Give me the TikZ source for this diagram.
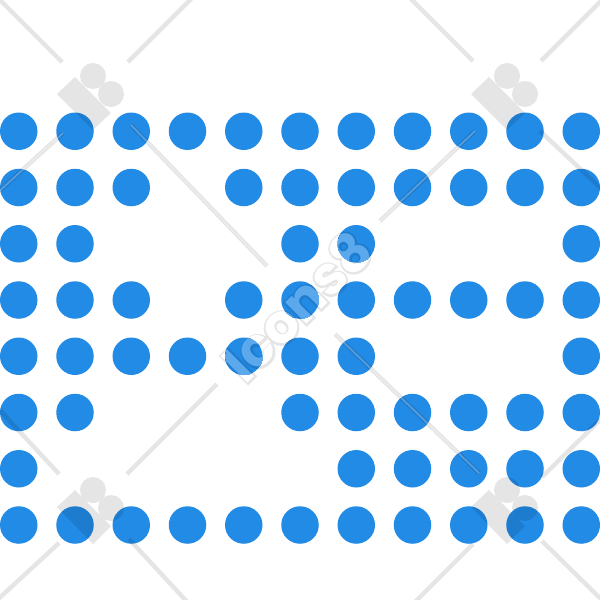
\documentclass[tikz,border=0pt]{standalone}
\usepackage{fontspec}
\setmainfont{Poppins}
\newfontfamily\markcore{Poppins Bold}
\newfontfamily\markhalo[FakeBold=7]{Poppins Bold}
\definecolor{dotblue}{HTML}{228BE6}
\definecolor{markgrey}{HTML}{E5E5E5}
\definecolor{markdark}{HTML}{1E7CCF}
\definecolor{marklight}{HTML}{5CA8EC}
\newcommand{\wmsize}{\fontsize{54}{54}\selectfont}
\newcommand{\iconsmark}[3]{%
  \node [wmtext,font=\wmsize\markhalo,text=#2] (#1halo) at (297,-306) {Icons8};
  \node [wmtext,font=\wmsize\markcore,text=#3] (#1core) at (297,-306) {Icons8};
}
\begin{document}
\begin{tikzpicture}[x=1pt,y=1pt]
		\tikzstyle{bluedot}=[fill=dotblue]
		\tikzstyle{wmline}=[black,opacity=0.1,line width=4.4pt]
		\tikzstyle{wmcore}=[white,opacity=0.25,line width=1.8pt]
		\tikzstyle{wmlogo}=[black,opacity=0.1]
		\tikzstyle{wmtext}=[inner sep=0pt,rotate=45]
		\useasboundingbox (0,0) rectangle (600,-600);
		\fill [white] (0,0) rectangle (600,-600);
		\iconsmark{under}{markgrey}{white}
		\fill [bluedot] (18.75,-131.25) circle (18.75);
		\fill [bluedot] (75,-131.25) circle (18.75);
		\fill [bluedot] (131.25,-131.25) circle (18.75);
		\fill [bluedot] (187.5,-131.25) circle (18.75);
		\fill [bluedot] (243.75,-131.25) circle (18.75);
		\fill [bluedot] (300,-131.25) circle (18.75);
		\fill [bluedot] (356.25,-131.25) circle (18.75);
		\fill [bluedot] (412.5,-131.25) circle (18.75);
		\fill [bluedot] (468.75,-131.25) circle (18.75);
		\fill [bluedot] (525,-131.25) circle (18.75);
		\fill [bluedot] (581.25,-131.25) circle (18.75);
		\fill [bluedot] (18.75,-187.5) circle (18.75);
		\fill [bluedot] (75,-187.5) circle (18.75);
		\fill [bluedot] (131.25,-187.5) circle (18.75);
		\fill [bluedot] (243.75,-187.5) circle (18.75);
		\fill [bluedot] (300,-187.5) circle (18.75);
		\fill [bluedot] (356.25,-187.5) circle (18.75);
		\fill [bluedot] (412.5,-187.5) circle (18.75);
		\fill [bluedot] (468.75,-187.5) circle (18.75);
		\fill [bluedot] (525,-187.5) circle (18.75);
		\fill [bluedot] (581.25,-187.5) circle (18.75);
		\fill [bluedot] (18.75,-243.75) circle (18.75);
		\fill [bluedot] (75,-243.75) circle (18.75);
		\fill [bluedot] (300,-243.75) circle (18.75);
		\fill [bluedot] (356.25,-243.75) circle (18.75);
		\fill [bluedot] (581.25,-243.75) circle (18.75);
		\fill [bluedot] (18.75,-300) circle (18.75);
		\fill [bluedot] (75,-300) circle (18.75);
		\fill [bluedot] (131.25,-300) circle (18.75);
		\fill [bluedot] (243.75,-300) circle (18.75);
		\fill [bluedot] (300,-300) circle (18.75);
		\fill [bluedot] (356.25,-300) circle (18.75);
		\fill [bluedot] (412.5,-300) circle (18.75);
		\fill [bluedot] (468.75,-300) circle (18.75);
		\fill [bluedot] (525,-300) circle (18.75);
		\fill [bluedot] (581.25,-300) circle (18.75);
		\fill [bluedot] (18.75,-356.25) circle (18.75);
		\fill [bluedot] (75,-356.25) circle (18.75);
		\fill [bluedot] (131.25,-356.25) circle (18.75);
		\fill [bluedot] (187.5,-356.25) circle (18.75);
		\fill [bluedot] (243.75,-356.25) circle (18.75);
		\fill [bluedot] (300,-356.25) circle (18.75);
		\fill [bluedot] (356.25,-356.25) circle (18.75);
		\fill [bluedot] (581.25,-356.25) circle (18.75);
		\fill [bluedot] (18.75,-412.5) circle (18.75);
		\fill [bluedot] (75,-412.5) circle (18.75);
		\fill [bluedot] (300,-412.5) circle (18.75);
		\fill [bluedot] (356.25,-412.5) circle (18.75);
		\fill [bluedot] (412.5,-412.5) circle (18.75);
		\fill [bluedot] (468.75,-412.5) circle (18.75);
		\fill [bluedot] (525,-412.5) circle (18.75);
		\fill [bluedot] (581.25,-412.5) circle (18.75);
		\fill [bluedot] (18.75,-468.75) circle (18.75);
		\fill [bluedot] (356.25,-468.75) circle (18.75);
		\fill [bluedot] (412.5,-468.75) circle (18.75);
		\fill [bluedot] (468.75,-468.75) circle (18.75);
		\fill [bluedot] (525,-468.75) circle (18.75);
		\fill [bluedot] (581.25,-468.75) circle (18.75);
		\fill [bluedot] (18.75,-525) circle (18.75);
		\fill [bluedot] (75,-525) circle (18.75);
		\fill [bluedot] (131.25,-525) circle (18.75);
		\fill [bluedot] (187.5,-525) circle (18.75);
		\fill [bluedot] (243.75,-525) circle (18.75);
		\fill [bluedot] (300,-525) circle (18.75);
		\fill [bluedot] (356.25,-525) circle (18.75);
		\fill [bluedot] (412.5,-525) circle (18.75);
		\fill [bluedot] (468.75,-525) circle (18.75);
		\fill [bluedot] (525,-525) circle (18.75);
		\fill [bluedot] (581.25,-525) circle (18.75);
		\begin{scope}
		\clip (243.75,-356.25) circle (18.75) (243.75,-300) circle (18.75) (300,-300) circle (18.75) (300,-356.25) circle (18.75) (300,-243.75) circle (18.75) (356.25,-243.75) circle (18.75) (356.25,-300) circle (18.75);
		\iconsmark{over}{markdark}{marklight}
		\end{scope}
		\draw [wmline] (-5,5) -- (62,-62);
		\draw [wmline] (128,-62) -- (193,3);
		\draw [wmline] (131,-125) -- (267,-266);
		\draw [wmline] (63,-133) -- (-5,-195);
		\draw [wmline] (407,5) -- (473,-61);
		\draw [wmline] (541,-61) -- (605,3);
		\draw [wmline] (475,-131) -- (380,-221);
		\draw [wmline] (540,-131) -- (605,-192);
		\draw [wmline] (-5,-405) -- (59,-474);
		\draw [wmline] (127,-474) -- (217,-384);
		\draw [wmline] (59,-543) -- (-5,-602);
		\draw [wmline] (129,-539) -- (190,-605);
		\draw [wmline] (335,-334) -- (479,-473);
		\draw [wmline] (542,-477) -- (605,-415);
		\draw [wmline] (473,-544) -- (412,-605);
		\draw [wmline] (542,-541) -- (607,-605);
		\draw [wmcore] (63,-133) -- (-5,-195);
		\draw [wmcore] (131,-125) -- (267,-266);
		\draw [wmcore] (475,-131) -- (380,-221);
		\draw [wmcore] (335,-334) -- (479,-473);
		\fill [wmlogo] (57,-94) -- (75,-77) -- (111,-113) -- (93,-130) -- cycle (93,-76) circle (13) (111,-94) circle (13);
		\fill [wmlogo] (471,-94) -- (489,-77) -- (525,-113) -- (507,-130) -- cycle (507,-76) circle (13) (525,-94) circle (13);
		\fill [wmlogo] (57,-507) -- (75,-490) -- (111,-526) -- (93,-544) -- cycle (93,-490) circle (13) (111,-508) circle (13);
		\fill [wmlogo] (471,-507) -- (489,-490) -- (525,-526) -- (507,-544) -- cycle (507,-490) circle (13) (525,-508) circle (13);
		\end{tikzpicture}
\end{document}
